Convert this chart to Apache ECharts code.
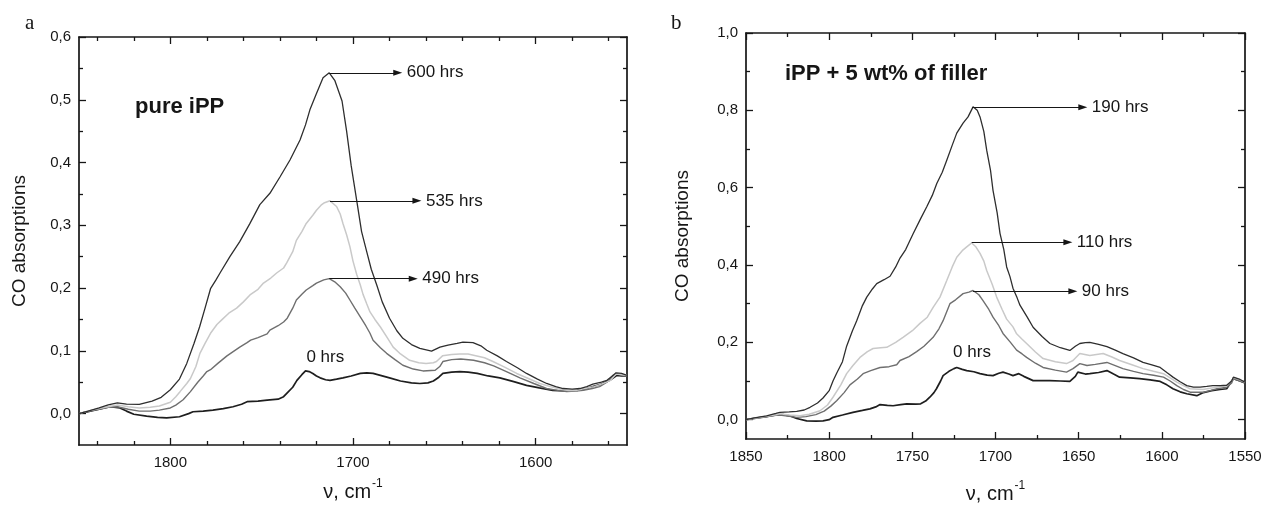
<!DOCTYPE html>
<html><head><meta charset="utf-8">
<script src="https://cdn.jsdelivr.net/npm/echarts@6/dist/echarts.min.js"></script>
<style>html,body{margin:0;padding:0;background:#fff}#c{width:1265px;height:506px}</style>
</head><body><div id="c"></div>
<script>
// ---------- Panel a: pure iPP (wavenumber, absorbance) ----------
const a600 = [[1850,0.0],[1845,0.004],[1839,0.009],[1834,0.014],[1829,0.017],[1824,0.015],[1817,0.0147],[1810,0.02],[1805,0.026],[1800,0.038],[1795,0.055],[1791,0.08],[1787,0.112],[1784,0.138],[1781,0.168],[1778,0.199],[1775,0.213],[1772.8,0.224],[1767.4,0.25],[1762,0.274],[1756.4,0.303],[1751,0.333],[1745.5,0.351],[1740,0.377],[1734.5,0.404],[1729,0.436],[1726,0.46],[1723.6,0.484],[1720,0.51],[1716.4,0.535],[1713,0.543],[1710,0.531],[1706,0.498],[1703.5,0.45],[1701,0.395],[1698,0.34],[1695.3,0.29],[1692.5,0.258],[1690,0.23],[1687,0.205],[1684,0.178],[1680,0.152],[1676,0.132],[1672.7,0.12],[1668,0.11],[1663.4,0.104],[1657,0.0996],[1652.4,0.106],[1648,0.109],[1643,0.112],[1639.8,0.114],[1634.3,0.113],[1630,0.108],[1626.8,0.101],[1621,0.092],[1616,0.083],[1610,0.073],[1605,0.064],[1599,0.055],[1594,0.048],[1589,0.043],[1585,0.04],[1580,0.039],[1575.8,0.04],[1572,0.043],[1568.7,0.047],[1564,0.05],[1561,0.053],[1558,0.06],[1556,0.065],[1553,0.064],[1550,0.061]];
const a535 = [[1850,0],[1845,0.004],[1839,0.008],[1834,0.011],[1829,0.0136],[1823,0.011],[1817,0.009],[1811,0.01],[1806,0.012],[1800,0.018],[1797,0.027],[1794.7,0.035],[1791,0.048],[1789,0.056],[1786,0.075],[1783.8,0.096],[1781,0.112],[1778,0.128],[1774.5,0.142],[1772,0.149],[1768,0.16],[1763.7,0.168],[1760,0.178],[1756.4,0.189],[1752,0.198],[1749,0.208],[1745,0.216],[1741.8,0.224],[1738,0.232],[1736.3,0.24],[1733,0.258],[1731,0.276],[1728,0.29],[1725.6,0.303],[1722,0.316],[1720,0.324],[1717.5,0.332],[1715.6,0.336],[1712.6,0.339],[1709,0.33],[1707,0.318],[1705.5,0.303],[1703.5,0.285],[1701.7,0.266],[1700,0.243],[1698,0.222],[1696,0.205],[1694.5,0.19],[1692.5,0.175],[1690.7,0.162],[1688,0.15],[1685,0.138],[1681,0.12],[1678,0.106],[1674,0.095],[1669,0.085],[1664,0.081],[1660,0.08],[1656,0.081],[1654.3,0.083],[1651,0.092],[1646,0.094],[1641.6,0.095],[1637,0.095],[1634,0.093],[1628,0.089],[1623.4,0.083],[1617,0.074],[1610.4,0.064],[1604,0.056],[1597.7,0.048],[1592,0.043],[1586.7,0.039],[1582,0.037],[1577.6,0.037],[1573,0.04],[1568,0.043],[1564,0.047],[1559,0.053],[1556,0.063],[1553,0.062],[1550,0.061]];
const a490 = [[1850,0],[1845,0.004],[1839,0.007],[1834,0.01],[1829,0.011],[1823,0.007],[1817,0.004],[1811,0.004],[1806,0.0056],[1800,0.009],[1797,0.0135],[1793,0.022],[1789,0.035],[1785,0.05],[1782,0.06],[1780,0.067],[1778,0.07],[1774,0.08],[1769,0.092],[1767,0.096],[1762,0.106],[1758,0.113],[1756,0.117],[1752,0.121],[1747,0.127],[1745.5,0.133],[1741,0.14],[1738,0.146],[1736,0.152],[1733,0.168],[1731,0.181],[1728,0.19],[1725.6,0.197],[1722,0.204],[1720,0.208],[1716,0.213],[1713,0.215],[1710,0.21],[1707,0.202],[1704,0.192],[1701.7,0.181],[1699,0.168],[1696,0.154],[1693,0.14],[1690.7,0.128],[1689,0.117],[1685,0.105],[1681.6,0.096],[1677,0.086],[1672.7,0.077],[1667,0.071],[1661.7,0.068],[1655,0.069],[1652.5,0.075],[1650.8,0.083],[1646,0.086],[1641,0.087],[1634,0.085],[1628,0.081],[1623,0.076],[1616,0.067],[1608.6,0.057],[1601,0.048],[1594,0.04],[1588,0.037],[1583,0.035],[1578,0.036],[1574,0.037],[1569,0.04],[1565,0.043],[1561,0.05],[1557.7,0.061],[1555,0.063],[1552,0.061],[1550,0.06]];
const a0 = [[1850,0],[1845,0.003],[1839,0.007],[1833,0.011],[1827.6,0.009],[1824,0.004],[1820,-0.001],[1813,-0.004],[1807,-0.006],[1802,-0.0067],[1795,-0.005],[1790,0.0],[1787.6,0.003],[1782,0.004],[1776.7,0.0056],[1771,0.008],[1765.7,0.011],[1761,0.015],[1758,0.019],[1752,0.02],[1747,0.0215],[1741,0.023],[1738,0.027],[1736,0.033],[1733,0.042],[1730.7,0.053],[1728,0.062],[1726,0.068],[1724,0.067],[1722,0.064],[1720,0.06],[1718,0.057],[1715,0.054],[1712.6,0.053],[1709,0.055],[1705.5,0.057],[1701,0.06],[1696,0.064],[1692.4,0.065],[1689,0.064],[1685,0.061],[1680,0.057],[1674,0.052],[1668,0.049],[1663.4,0.048],[1659,0.049],[1656,0.052],[1653,0.058],[1650.8,0.064],[1646,0.066],[1641.5,0.067],[1637,0.066],[1632,0.064],[1626,0.06],[1619.6,0.057],[1612,0.051],[1605,0.045],[1598,0.041],[1590.6,0.037],[1584,0.036],[1577.4,0.037],[1573,0.039],[1568.7,0.043],[1564,0.047],[1559.4,0.053],[1555.5,0.061],[1553,0.06],[1550,0.06]];

// ---------- Panel b: iPP + 5 wt% of filler ----------
const b190 = [[1850,0],[1844,0.005],[1837.6,0.01],[1832,0.016],[1829.6,0.019],[1824,0.02],[1819.5,0.0215],[1815,0.025],[1811.5,0.032],[1807,0.043],[1803.7,0.056],[1800,0.075],[1797.7,0.1],[1795.5,0.12],[1792,0.15],[1789.5,0.19],[1786,0.23],[1783.5,0.255],[1780,0.295],[1777.4,0.317],[1774,0.338],[1771.4,0.352],[1767,0.362],[1763.4,0.371],[1760,0.395],[1757.4,0.418],[1754,0.44],[1749.6,0.48],[1745,0.52],[1741.4,0.55],[1738,0.58],[1735.3,0.611],[1732,0.64],[1729.3,0.671],[1726,0.71],[1723.3,0.741],[1719.5,0.767],[1716.5,0.783],[1713.5,0.809],[1711,0.8],[1709.3,0.783],[1707,0.745],[1705.3,0.697],[1703,0.645],[1701.5,0.593],[1699,0.535],[1697.3,0.482],[1695,0.44],[1693.3,0.395],[1691.3,0.37],[1689.5,0.34],[1687,0.315],[1685.3,0.296],[1681,0.266],[1677.4,0.239],[1672,0.215],[1667.3,0.197],[1661,0.186],[1655.3,0.179],[1652,0.19],[1649.3,0.197],[1646,0.199],[1643.3,0.2],[1638,0.195],[1633,0.189],[1628,0.18],[1623.4,0.171],[1617,0.16],[1611.3,0.148],[1606,0.142],[1601,0.135],[1597,0.122],[1593.3,0.11],[1589,0.098],[1585,0.088],[1581,0.084],[1577,0.084],[1573,0.086],[1569.3,0.088],[1565,0.088],[1561,0.089],[1558,0.1],[1557,0.11],[1553,0.104],[1550,0.097]];
const b110 = [[1850,0],[1844,0.004],[1837.6,0.009],[1832,0.013],[1829.6,0.015],[1824,0.012],[1817.5,0.01],[1812,0.014],[1805.5,0.023],[1801,0.038],[1797.7,0.058],[1793,0.09],[1789.5,0.119],[1785.7,0.14],[1781.5,0.161],[1777,0.176],[1773.6,0.184],[1769,0.186],[1765.4,0.187],[1760,0.2],[1755.6,0.213],[1750,0.23],[1745.4,0.249],[1741,0.265],[1737.4,0.291],[1733.4,0.317],[1729.3,0.36],[1726,0.395],[1723.3,0.42],[1720,0.437],[1717.3,0.447],[1714.3,0.457],[1712,0.448],[1709.3,0.43],[1707,0.41],[1705.3,0.386],[1702,0.35],[1699.3,0.317],[1696,0.285],[1693.3,0.26],[1689.5,0.24],[1687.3,0.222],[1684,0.208],[1681.3,0.197],[1676,0.175],[1671.4,0.158],[1664,0.15],[1657.3,0.145],[1653.4,0.153],[1649.3,0.171],[1643.3,0.166],[1635.3,0.171],[1630,0.162],[1625.4,0.153],[1618,0.142],[1611.3,0.132],[1605,0.125],[1599,0.119],[1595,0.108],[1591,0.097],[1587,0.088],[1583,0.08],[1575.2,0.078],[1571,0.081],[1567,0.084],[1561,0.088],[1558,0.1],[1557,0.109],[1553,0.103],[1550,0.097]];
const b90 = [[1850,0],[1844,0.004],[1837.6,0.008],[1832,0.011],[1829.6,0.012],[1824,0.009],[1819.5,0.006],[1814,0.008],[1808,0.013],[1803,0.022],[1799,0.035],[1795.5,0.049],[1791,0.07],[1787.5,0.09],[1783,0.105],[1779.6,0.119],[1775,0.127],[1769.4,0.135],[1764,0.137],[1759.4,0.142],[1757.4,0.153],[1752,0.163],[1747.4,0.176],[1743,0.19],[1737.5,0.213],[1734,0.235],[1731.5,0.256],[1727.4,0.3],[1724,0.31],[1719.5,0.326],[1716,0.33],[1713.5,0.334],[1710,0.323],[1707.5,0.308],[1704,0.285],[1701.5,0.265],[1698,0.243],[1695.5,0.223],[1691,0.2],[1687.3,0.18],[1684,0.17],[1681.3,0.161],[1676,0.146],[1671.4,0.135],[1664,0.128],[1657.3,0.123],[1653.4,0.132],[1649.3,0.145],[1645,0.14],[1640,0.143],[1633,0.148],[1628,0.14],[1623.4,0.132],[1617,0.125],[1611.3,0.119],[1605,0.115],[1599,0.11],[1595,0.1],[1591,0.088],[1587,0.078],[1583,0.071],[1575,0.071],[1571,0.075],[1567,0.08],[1561,0.084],[1558,0.095],[1557,0.106],[1553,0.1],[1550,0.095]];
const b0 = [[1850,0],[1844,0.004],[1837.6,0.008],[1832,0.012],[1827.7,0.013],[1823,0.009],[1819.5,0.003],[1813.5,-0.003],[1808,-0.004],[1803.7,-0.003],[1800,0.0],[1797.7,0.006],[1792,0.012],[1785.7,0.019],[1780,0.024],[1775.5,0.028],[1772,0.033],[1769.4,0.039],[1765,0.037],[1761.6,0.036],[1757,0.039],[1753.4,0.041],[1748,0.04],[1745,0.041],[1742,0.048],[1739.5,0.058],[1737,0.07],[1735.5,0.08],[1733,0.1],[1731.5,0.114],[1728,0.125],[1725,0.132],[1723.3,0.135],[1720,0.13],[1717.3,0.127],[1713,0.124],[1709.3,0.119],[1705,0.115],[1701.5,0.114],[1698,0.12],[1695.5,0.123],[1692,0.118],[1689.5,0.114],[1686,0.119],[1683,0.112],[1677.4,0.101],[1672,0.101],[1667.3,0.101],[1661,0.1],[1655.3,0.099],[1652,0.112],[1650.5,0.123],[1646,0.118],[1643.3,0.119],[1638,0.122],[1633,0.127],[1629,0.118],[1625.4,0.11],[1619,0.108],[1613.4,0.106],[1607,0.103],[1601,0.099],[1597,0.09],[1593.3,0.08],[1589,0.072],[1585,0.067],[1579,0.062],[1575,0.07],[1570,0.075],[1565,0.078],[1561,0.08],[1558,0.1],[1557,0.106],[1553,0.1],[1550,0.095]];

// ---------- Tick values ----------
const aXMajor = [1600, 1700, 1800];
const aXMinor = [1560, 1580, 1620, 1640, 1660, 1680, 1720, 1740, 1760, 1780, 1820, 1840];
const aYMajor = [0, 0.1, 0.2, 0.3, 0.4, 0.5, 0.6];
const aYMinor = [0.05, 0.15, 0.25, 0.35, 0.45, 0.55];
const bXMajor = [1550, 1600, 1650, 1700, 1750, 1800, 1850];
const bXMinor = [1575, 1625, 1675, 1725, 1775, 1825];
const bYMajor = [0, 0.2, 0.4, 0.6, 0.8, 1.0];
const bYMinor = [0.1, 0.3, 0.5, 0.7, 0.9];

// ---------- Annotations: [peak wavenumber, peak value, arrow end wavenumber, text] ----------
const aArrows = [[1713, 0.543, 1675.5, '600 hrs'], [1712.6, 0.339, 1665, '535 hrs'], [1713, 0.215, 1667, '490 hrs']];
const bArrows = [[1714, 0.808, 1647.5, '190 hrs'], [1714.3, 0.459, 1656.5, '110 hrs'], [1713.5, 0.332, 1653.5, '90 hrs']];
const aZeroLabel = [1725.5, 0.089, '0 hrs'];
const bZeroLabel = [1725.5, 0.173, '0 hrs'];

const FONT = 'Liberation Sans, Arial, sans-serif';
const INK = '#161616';
const fmtY = v => v.toFixed(1).replace('.', ',');
const fmtX = v => String(Math.round(v));

function axis(gi, pos, min, max, inverse, ticks, len, opts) {
  opts = opts || {};
  const isX = pos === 'bottom' || pos === 'top';
  return Object.assign({
    type: 'value', gridIndex: gi, position: pos, min: min, max: max, inverse: inverse,
    axisLine: {show: !!opts.line, onZero: false, lineStyle: {color: INK, width: 1.7}},
    axisTick: {show: true, inside: true, length: len, customValues: ticks, lineStyle: {color: INK, width: 1.3}},
    axisLabel: {show: !!opts.label, customValues: ticks, formatter: isX ? fmtX : fmtY,
      margin: isX ? 10 : 8, color: INK, fontSize: 15, fontFamily: FONT},
    splitLine: {show: false}, minorTick: {show: false}
  }, opts.extra || {});
}

const xName = {
  name: '{n|ν, cm}{s|-1}', nameLocation: 'middle',
  nameTextStyle: {color: INK, fontFamily: FONT, rich: {
    n: {fontSize: 20, fontFamily: FONT, color: INK, lineHeight: 24, verticalAlign: 'bottom'},
    s: {fontSize: 12, fontFamily: FONT, color: INK, lineHeight: 24, verticalAlign: 'top', padding: [0, 0, 12, 1]}
  }}
};
const yName = {name: 'CO absorptions', nameLocation: 'middle',
  nameTextStyle: {color: INK, fontFamily: FONT, fontSize: 19}};

const xAxes = [
  axis(0, 'bottom', 1550, 1850, true, aXMajor, 7, {line: true, label: true, extra: Object.assign({nameGap: 33}, xName)}),
  axis(0, 'bottom', 1550, 1850, true, aXMinor, 4),
  axis(0, 'top', 1550, 1850, true, aXMajor, 7, {line: true}),
  axis(0, 'top', 1550, 1850, true, aXMinor, 4),
  axis(1, 'bottom', 1550, 1850, true, bXMajor, 7, {line: true, label: true, extra: Object.assign({nameGap: 41}, xName)}),
  axis(1, 'bottom', 1550, 1850, true, bXMinor, 4),
  axis(1, 'top', 1550, 1850, true, bXMajor, 7, {line: true}),
  axis(1, 'top', 1550, 1850, true, bXMinor, 4)
];
const yAxes = [
  axis(0, 'left', -0.05, 0.6, false, aYMajor, 7, {line: true, label: true, extra: Object.assign({nameGap: 50}, yName)}),
  axis(0, 'left', -0.05, 0.6, false, aYMinor, 4),
  axis(0, 'right', -0.05, 0.6, false, aYMajor, 7, {line: true}),
  axis(0, 'right', -0.05, 0.6, false, aYMinor, 4),
  axis(1, 'left', -0.05, 1.0, false, bYMajor, 7, {line: true, label: true, extra: Object.assign({nameGap: 54}, yName)}),
  axis(1, 'left', -0.05, 1.0, false, bYMinor, 4),
  axis(1, 'right', -0.05, 1.0, false, bYMajor, 7, {line: true}),
  axis(1, 'right', -0.05, 1.0, false, bYMinor, 4)
];

function arrowLines(list) {
  return {
    silent: true, animation: false, symbol: ['none', 'triangle'], symbolSize: [6, 9],
    itemStyle: {color: INK},
    lineStyle: {color: INK, width: 1.2, type: 'solid'},
    label: {show: true, position: 'end', distance: 9, color: INK, fontSize: 17, fontFamily: FONT,
      formatter: p => p.data.txt},
    data: list.map(r => [{coord: [r[0], r[1]], txt: r[3]}, {coord: [r[2], r[1]], txt: r[3]}])
  };
}
function zeroMark(z) {
  return {silent: true, animation: false, symbol: 'rect', symbolSize: 0,
    label: {show: true, position: 'right', distance: 0, color: INK, fontSize: 17, fontFamily: FONT, formatter: z[2]},
    data: [{coord: [z[0], z[1]]}]};
}
function line(data, xi, yi, color, width, extra) {
  return Object.assign({type: 'line', data: data, xAxisIndex: xi, yAxisIndex: yi, showSymbol: false,
    symbol: 'none', smooth: false, animation: false, silent: true, z: 3,
    lineStyle: {color: color, width: width}}, extra || {});
}

const option = {
  backgroundColor: '#ffffff',
  animation: false,
  grid: [
    {left: 79, top: 37, width: 548, height: 408, outerBoundsMode: 'none', containLabel: false},
    {left: 746, top: 33, width: 499, height: 406, outerBoundsMode: 'none', containLabel: false}
  ],
  xAxis: xAxes,
  yAxis: yAxes,
  graphic: [
    {type: 'text', left: 25, top: 13, style: {text: 'a', font: '21px "Liberation Serif", serif', fill: INK}},
    {type: 'text', left: 671, top: 13, style: {text: 'b', font: '21px "Liberation Serif", serif', fill: INK}},
    {type: 'text', left: 135, top: 96, style: {text: 'pure iPP', font: 'bold 22px "Liberation Sans", Arial, sans-serif', fill: INK}},
    {type: 'text', left: 785, top: 63, style: {text: 'iPP + 5 wt% of filler', font: 'bold 22px "Liberation Sans", Arial, sans-serif', fill: INK}}
  ],
  series: [
    line(a0, 0, 0, '#1e1e1e', 1.7, {markPoint: zeroMark(aZeroLabel)}),
    line(a490, 0, 0, '#6f6f6f', 1.4),
    line(a535, 0, 0, '#c9c9c9', 1.5),
    line(a600, 0, 0, '#2e2e2e', 1.3, {markLine: arrowLines(aArrows)}),
    line(b0, 4, 4, '#1e1e1e', 1.7, {markPoint: zeroMark(bZeroLabel)}),
    line(b90, 4, 4, '#6f6f6f', 1.4),
    line(b110, 4, 4, '#c9c9c9', 1.5),
    line(b190, 4, 4, '#2e2e2e', 1.3, {markLine: arrowLines(bArrows)})
  ]
};
const chart = echarts.init(document.getElementById('c'), null, {renderer: 'canvas'});
chart.setOption(option);
</script>
</body></html>
